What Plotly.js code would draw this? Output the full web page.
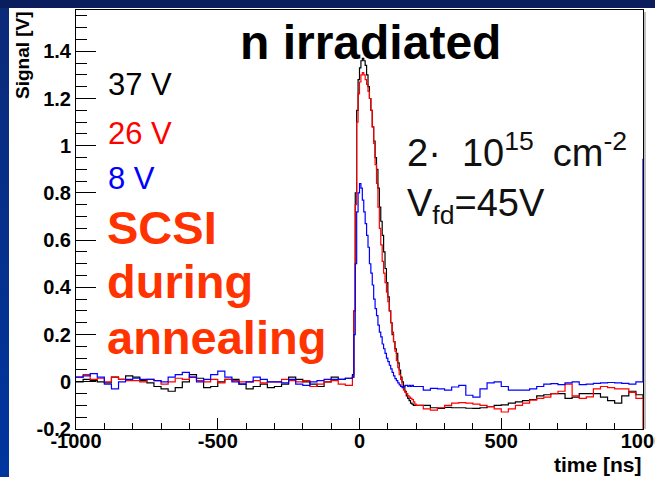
<!DOCTYPE html>
<html>
<head>
<meta charset="utf-8">
<script src="https://cdn.plot.ly/plotly-3.0.1.min.js"></script>
<style>
  html, body { margin: 0; padding: 0; }
  body { width: 655px; height: 477px; overflow: hidden; position: relative;
         background: linear-gradient(to bottom, #0b2a78 0%, #0036a0 100%); }
  #band { position: absolute; left: 0; top: 0; width: 655px; height: 8px; background: #0a1d5c; }
  #chart { position: absolute; left: 9px; top: 8px; width: 646px; height: 469px; background: #fff; }
</style>
</head>
<body>
<div id="band"></div>
<div id="chart"></div>
<script>
// ---- data (time in ns, signal in V) ----
const time = [
  -1000,-975,-950,-925,-900,-875,-850,-825,-800,-775,-750,-725,-700,-675,-650,-625,-600,-575,-550,-525,
  -500,-475,-450,-425,-400,-375,-350,-325,-300,-275,-250,-225,-200,-175,-150,-125,-100,-75,-50,-25,
  -20,-15,-10,-5,0,5,10,15,20,25,30,35,40,45,50,55,60,65,70,75,80,85,90,95,100,
  105,110,115,120,125,130,135,140,145,150,155,160,165,170,175,180,185,190,195,200,
  225,250,275,300,325,350,375,400,425,450,475,500,525,550,575,600,625,650,675,700,
  725,750,775,800,825,850,875,900,925,950,975,1000
];

const sig37V = [
  0.0,0.01,0.005,0.0,-0.005,0.02,0.01,0.025,0.02,0.005,-0.005,-0.02,-0.03,-0.04,-0.025,0.0,0.03,0.015,-0.025,-0.02,
  0.0,0.01,0.01,-0.01,-0.03,-0.02,-0.01,-0.025,-0.02,-0.01,0.02,0.01,0.0,-0.01,-0.02,0.0,0.02,0.01,0.015,0.03,
  0.3,0.8,1.15,1.28,1.33,1.36,1.37,1.36,1.34,1.3,1.25,1.2,1.15,1.08,1.02,0.95,0.9,0.82,0.74,0.68,0.62,0.55,0.48,0.42,0.36,
  0.3,0.25,0.2,0.17,0.14,0.12,0.08,0.05,0.02,0.0,-0.02,-0.04,-0.06,-0.07,-0.08,-0.09,-0.095,-0.1,-0.1,-0.1,
  -0.1,-0.11,-0.113,-0.108,-0.11,-0.11,-0.112,-0.113,-0.11,-0.105,-0.1,-0.098,-0.09,-0.085,-0.08,-0.075,-0.06,-0.055,-0.05,-0.05,
  -0.07,-0.065,-0.05,-0.05,-0.05,-0.065,-0.08,-0.09,-0.06,-0.04,-0.055,-0.07
];

const sig26V = [
  0.02,0.03,0.01,0.015,0.0,0.02,0.01,0.005,0.005,0.0,0.01,0.005,-0.01,0.0,0.015,0.01,0.02,0.005,0.0,0.01,
  -0.005,0.01,0.005,0.0,0.0,0.005,-0.005,0.0,0.0,0.01,0.005,0.0,0.005,-0.02,-0.01,0.0,0.005,-0.01,-0.015,0.02,
  0.3,0.75,1.1,1.22,1.27,1.3,1.31,1.3,1.28,1.26,1.23,1.2,1.15,1.08,1.01,0.92,0.84,0.74,0.65,0.58,0.51,0.46,0.42,0.38,0.34,
  0.3,0.25,0.21,0.17,0.13,0.09,0.06,0.03,0.01,-0.02,-0.035,-0.045,-0.05,-0.06,-0.065,-0.07,-0.075,-0.085,-0.095,-0.1,
  -0.115,-0.12,-0.11,-0.1,-0.09,-0.088,-0.09,-0.095,-0.1,-0.105,-0.115,-0.128,-0.115,-0.1,-0.09,-0.078,-0.07,-0.065,-0.05,-0.04,
  -0.01,-0.06,-0.07,-0.064,-0.03,-0.02,-0.025,-0.03,-0.03,-0.045,-0.07,-0.2
];

const sig8V = [
  0.02,0.025,0.035,0.02,-0.01,-0.03,0.0,0.01,0.015,0.01,0.01,0.005,0.0,0.02,0.03,0.04,0.02,0.0,0.01,0.03,
  0.045,0.02,0.0,-0.01,0.0,0.02,0.01,0.0,0.0,-0.005,0.01,-0.01,-0.015,0.0,0.005,0.01,0.01,0.01,0.015,0.02,
  0.2,0.5,0.72,0.8,0.84,0.82,0.77,0.72,0.67,0.62,0.57,0.5,0.46,0.41,0.35,0.31,0.28,0.24,0.21,0.19,0.16,0.14,0.12,0.1,0.085,
  0.07,0.055,0.04,0.025,0.013,0.005,-0.005,-0.013,-0.02,-0.025,-0.02,-0.015,-0.015,-0.02,-0.015,-0.02,-0.015,-0.02,-0.02,-0.02,
  -0.035,-0.028,-0.03,-0.035,-0.022,-0.015,-0.057,-0.065,-0.03,-0.005,0.0,-0.02,-0.035,-0.035,-0.035,-0.03,-0.02,-0.01,-0.008,-0.012,
  -0.005,0.0,-0.012,-0.01,-0.007,-0.005,-0.003,-0.005,-0.007,-0.01,0.0,0.945
];

const seriesLabels = ['37 V', '26 V', '8 V'];
const seriesColors = ['#000000', '#ff0000', '#0000ff'];
const yTickVals = [-0.2, 0, 0.2, 0.4, 0.6, 0.8, 1, 1.2, 1.4];
const yTickText = ['-0.2', '0', '0.2', '0.4', '0.6', '0.8', '1', '1.2', '1.4'];
const xTickVals = [-1000, -500, 0, 500, 1000];
const xTickText = ['-1000', '-500', '0', '500', '1000'];

// ---- geometry helpers (plot frame in page pixels) ----
const FX0 = 76, FX1 = 643, FY0 = 10, FY1 = 429;
const PX = p => (p - FX0) / (FX1 - FX0);
const PY = p => (FY1 - p) / (FY1 - FY0);

const sigs = [sig37V, sig26V, sig8V];
const traces = sigs.map((s, i) => ({
  x: time, y: s, type: 'scatter', mode: 'lines', name: seriesLabels[i],
  line: { color: seriesColors[i], width: 1.2, shape: 'hv' }, hoverinfo: 'skip'
}));

const FAM = 'Liberation Sans, Arial, Helvetica, sans-serif';
const bold = { family: FAM, weight: 700 };
const reg = { family: FAM };
const B = s => '<b>' + s + '</b>';

const annotations = [
  { text: B('n irradiated'), x: PX(370), y: PY(42), xanchor: 'center', yanchor: 'middle',
    font: Object.assign({ size: 48, color: '#000' }, bold) },
  { text: seriesLabels[0], x: PX(106), y: PY(84), xanchor: 'left', yanchor: 'middle',
    font: Object.assign({ size: 31, color: seriesColors[0] }, reg) },
  { text: seriesLabels[1], x: PX(106), y: PY(133), xanchor: 'left', yanchor: 'middle',
    font: Object.assign({ size: 31, color: seriesColors[1] }, reg) },
  { text: seriesLabels[2], x: PX(106), y: PY(178), xanchor: 'left', yanchor: 'middle',
    font: Object.assign({ size: 31, color: seriesColors[2] }, reg) },
  { text: B('SCSI'), x: PX(105), y: PY(227), xanchor: 'left', yanchor: 'middle',
    font: Object.assign({ size: 47, color: '#ff3300' }, bold) },
  { text: B('during'), x: PX(105), y: PY(281), xanchor: 'left', yanchor: 'middle',
    font: Object.assign({ size: 47, color: '#ff3300' }, bold) },
  { text: B('annealing'), x: PX(105), y: PY(337), xanchor: 'left', yanchor: 'middle',
    font: Object.assign({ size: 47, color: '#ff3300' }, bold) },
  { text: '2·&nbsp;&nbsp;10<sup>15</sup>\u2002cm<sup>-2</sup>', x: PX(405), y: PY(150), xanchor: 'left', yanchor: 'middle',
    font: Object.assign({ size: 38, color: '#111' }, reg) },
  { text: 'V<sub>fd</sub>=45V', x: PX(405), y: PY(206), xanchor: 'left', yanchor: 'middle',
    font: Object.assign({ size: 38, color: '#111' }, reg) },
  { text: B('Signal [V]'), x: PX(22), y: PY(55), xanchor: 'center', yanchor: 'middle', textangle: -90,
    font: Object.assign({ size: 19, color: '#000' }, bold) },
  { text: B('time [ns]'), x: PX(644), y: PY(464), xanchor: 'right', yanchor: 'middle',
    font: Object.assign({ size: 21, color: '#000' }, bold) }
].map(a => Object.assign({ xref: 'paper', yref: 'paper', showarrow: false }, a));

const layout = {
  width: 646, height: 469,
  margin: { l: FX0 - 9, r: 646 - (FX1 - 9), t: FY0 - 8, b: 469 - (FY1 - 8) },
  paper_bgcolor: '#ffffff', plot_bgcolor: '#ffffff',
  showlegend: false,
  xaxis: {
    range: [-1000, 1000], showgrid: false, zeroline: false,
    showline: true, linecolor: '#000', linewidth: 1, mirror: true,
    ticks: 'inside', ticklen: 11, tickcolor: '#000', tickwidth: 1,
    tickvals: xTickVals, ticktext: xTickText.map(B),
    tickfont: Object.assign({ size: 20, color: '#000' }, bold),
    ticklabeloverflow: 'allow', ticklabelstandoff: -6,
    minor: { ticks: 'inside', dtick: 100, ticklen: 6, tickcolor: '#000', showgrid: false },
    layer: 'below traces'
  },
  yaxis: {
    range: [-0.2, 1.575], showgrid: false, zeroline: false,
    showline: true, linecolor: '#000', linewidth: 1, mirror: true,
    ticks: 'inside', ticklen: 20, tickcolor: '#000', tickwidth: 1,
    tickvals: yTickVals, ticktext: yTickText.map(B),
    tickfont: Object.assign({ size: 20, color: '#000' }, bold),
    ticklabeloverflow: 'allow',
    minor: { ticks: 'inside', dtick: 0.05, ticklen: 11, tickcolor: '#000', showgrid: false },
    layer: 'below traces'
  },
  shapes: [
    { type: 'line', xref: 'paper', yref: 'paper', x0: 1 + 2 / 567, x1: 1 + 2 / 567, y0: 0, y1: 1 - 2 / 419,
      line: { color: '#aaaaaa', width: 1.5 } }
  ],
  annotations: annotations
};

Plotly.newPlot('chart', traces, layout, { staticPlot: true, displayModeBar: false });
</script>
</body>
</html>
